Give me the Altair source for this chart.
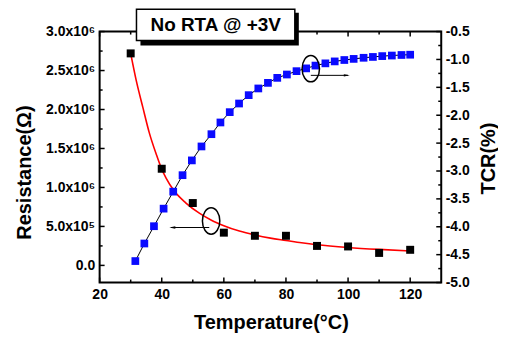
import altair as alt
import pandas as pd

# ---- data ----
temp_r = [30, 40, 50, 60, 70, 80, 90, 100, 110, 120]
resistance = [2.72e6, 1.24e6, 0.80e6, 0.42e6, 0.38e6, 0.38e6, 0.25e6, 0.243e6, 0.16e6, 0.20e6]

fit_t = [30, 31.8, 33.9, 36.0, 38.2, 39.8, 41.4, 44.1, 47.8, 52.1, 56, 60, 65, 70, 75, 80, 85, 90, 100, 110, 120]
fit_r = [2.72e6, 2.37e6, 2.03e6, 1.70e6, 1.43e6, 1.255e6, 1.12e6, 0.95e6, 0.80e6, 0.67e6, 0.58e6,
         0.51e6, 0.44e6, 0.39e6, 0.35e6, 0.32e6, 0.29e6, 0.265e6, 0.23e6, 0.205e6, 0.185e6]

temp_tcr = [31.5, 34.4, 37.5, 40.6, 43.7, 46.7, 49.7, 52.8, 56.0, 58.9, 61.9, 64.9, 68.0, 71.1, 74.2,
            77.2, 80.3, 83.4, 86.5, 89.5, 92.7, 95.7, 98.8, 101.8, 105.0, 108.0, 111.0, 114.1, 117.2, 120.0]
tcr = [-4.615, -4.30, -3.99, -3.675, -3.37, -3.075, -2.81, -2.56, -2.34, -2.13, -1.945, -1.79, -1.64,
       -1.52, -1.42, -1.33, -1.27, -1.21, -1.16, -1.11, -1.07, -1.035, -1.01, -0.99, -0.97, -0.955,
       -0.94, -0.93, -0.92, -0.915]

x_major = [20, 40, 60, 80, 100, 120]
x_minor = [30, 50, 70, 90, 110]
r_major = [0, 5e5, 1e6, 1.5e6, 2e6, 2.5e6, 3e6]
r_minor = [2.5e5, 7.5e5, 1.25e6, 1.75e6, 2.25e6, 2.75e6]
t_major = [-5.0, -4.5, -4.0, -3.5, -3.0, -2.5, -2.0, -1.5, -1.0, -0.5]
t_minor = [-4.75, -4.25, -3.75, -3.25, -2.75, -2.25, -1.75, -1.25, -0.75]

# annotation anchors (data units)
ell1_t, ell1_r = [55.9], [0.57e6]
arr1_t, arr1_r = [55.3, 43.0], [0.486e6, 0.486e6]
head1_t = [43.4]
ell2_t, ell2_v = [88.0], [-1.165]
arr2_t, arr2_v = [88.0, 100.0], [-1.285, -1.285]
head2_t = [99.6]

title_text = "No RTA @ +3V"

FONT = "Liberation Sans"
W, H = 343, 252

xs = alt.Scale(domain=[20, 130], nice=False, zero=False)
rs = alt.Scale(domain=[-2.2e5, 3.0e6], nice=False, zero=False)
ts = alt.Scale(domain=[-5.0, -0.5], nice=False, zero=False)

x_axis = alt.Axis(values=x_major, title="Temperature(\u00b0C)", ticks=False, domain=False, grid=False,
                  labelPadding=5, titleX=172, titleY=40, titleBaseline="middle", titleAlign="center")
r_axis = alt.Axis(values=r_major, title="Resistance(\u03a9)", ticks=False, domain=False, grid=False,
                  labelPadding=5,
                  labelExpr="datum.value == 0 ? '0.0' : (datum.value < 1e6 ? format(datum.value/1e5, '.1f') + 'x10\u2075' : format(datum.value/1e6, '.1f') + 'x10\u2076')",
                  titleX=-75, titleY=141, titleAngle=270, titleBaseline="middle", titleAlign="center")
t_axis = alt.Axis(values=t_major, title="TCR(%)", orient="right", ticks=False, domain=False, grid=False,
                  labelPadding=4, labelExpr="'-' + format(-datum.value, '.1f')",
                  titleX=47, titleY=127, titleAngle=270, titleBaseline="middle", titleAlign="center")

ELL = "M -0.66 0 A 0.66 1 0 1 0 0.66 0 A 0.66 1 0 1 0 -0.66 0 Z"
HEAD_L = "M -1 0 L 1 -0.4 L 1 0.4 Z"
HEAD_R = "M 1 0 L -1 -0.4 L -1 0.4 Z"


def X(field):
    return alt.X(field, scale=xs, axis=x_axis)


def YR(field):
    return alt.Y(field, scale=rs, axis=r_axis)


def YT(field):
    return alt.Y(field, scale=ts, axis=t_axis)


# ---- resistance group ----
fit_df = pd.DataFrame({"T": fit_t, "R": fit_r})
res_df = pd.DataFrame({"T": temp_r, "R": resistance})

fit_line = alt.Chart(fit_df).mark_line(color="red", strokeWidth=1.6, interpolate="monotone").encode(
    x=X("T:Q"), y=YR("R:Q"))
res_pts = alt.Chart(res_df).mark_square(color="black", size=64, opacity=1).encode(
    x=X("T:Q"), y=YR("R:Q"))
rmaj = alt.Chart(pd.DataFrame({"R": r_major})).mark_rule(color="black", strokeWidth=1.5).encode(
    y=YR("R:Q"), x=alt.value(0), x2=alt.value(5))
rmin = alt.Chart(pd.DataFrame({"R": r_minor})).mark_rule(color="black", strokeWidth=1.5).encode(
    y=YR("R:Q"), x=alt.value(0), x2=alt.value(3))
ell1 = alt.Chart(pd.DataFrame({"T": ell1_t, "R": ell1_r})).mark_point(
    shape=ELL, size=700, filled=False, color="black", strokeWidth=1.5, opacity=1).encode(
    x=X("T:Q"), y=YR("R:Q"))
arr1 = alt.Chart(pd.DataFrame({"T": arr1_t, "R": arr1_r})).mark_line(color="black", strokeWidth=1).encode(
    x=X("T:Q"), y=YR("R:Q"))
hd1 = alt.Chart(pd.DataFrame({"T": head1_t, "R": [arr1_r[0]]})).mark_point(
    shape=HEAD_L, size=36, filled=True, color="black", opacity=1).encode(
    x=X("T:Q"), y=YR("R:Q"))

res_group = alt.layer(fit_line, res_pts, rmaj, rmin, ell1, arr1, hd1)

# ---- TCR group ----
tcr_df = pd.DataFrame({"T": temp_tcr, "V": tcr})
tcr_line = alt.Chart(tcr_df).mark_line(color="black", strokeWidth=1).encode(
    x=X("T:Q"), y=YT("V:Q"))
tcr_pts = alt.Chart(tcr_df).mark_square(color="#0a0aff", size=60, opacity=1).encode(
    x=X("T:Q"), y=YT("V:Q"))
tmaj = alt.Chart(pd.DataFrame({"V": t_major})).mark_rule(color="black", strokeWidth=1.5).encode(
    y=YT("V:Q"), x=alt.value(W), x2=alt.value(W - 5))
tmin = alt.Chart(pd.DataFrame({"V": t_minor})).mark_rule(color="black", strokeWidth=1.5).encode(
    y=YT("V:Q"), x=alt.value(W), x2=alt.value(W - 3))
ell2 = alt.Chart(pd.DataFrame({"T": ell2_t, "V": ell2_v})).mark_point(
    shape=ELL, size=700, filled=False, color="black", strokeWidth=1.5, opacity=1).encode(
    x=X("T:Q"), y=YT("V:Q"))
arr2 = alt.Chart(pd.DataFrame({"T": arr2_t, "V": arr2_v})).mark_line(color="black", strokeWidth=1).encode(
    x=X("T:Q"), y=YT("V:Q"))
hd2 = alt.Chart(pd.DataFrame({"T": head2_t, "V": [arr2_v[0]]})).mark_point(
    shape=HEAD_R, size=36, filled=True, color="black", opacity=1).encode(
    x=X("T:Q"), y=YT("V:Q"))

tcr_group = alt.layer(tcr_line, tcr_pts, tmaj, tmin, ell2, arr2, hd2)

# ---- x ticks (bottom and top, inward) ----
xmaj_df = pd.DataFrame({"T": x_major})
xmin_df = pd.DataFrame({"T": x_minor})
bmaj = alt.Chart(xmaj_df).mark_rule(color="black", strokeWidth=1.5).encode(
    x=X("T:Q"), y=alt.value(H), y2=alt.value(H - 5))
bmin = alt.Chart(xmin_df).mark_rule(color="black", strokeWidth=1.5).encode(
    x=X("T:Q"), y=alt.value(H), y2=alt.value(H - 3))
tpmaj = alt.Chart(xmaj_df).mark_rule(color="black", strokeWidth=1.5).encode(
    x=X("T:Q"), y=alt.value(0), y2=alt.value(5))
tpmin = alt.Chart(xmin_df).mark_rule(color="black", strokeWidth=1.5).encode(
    x=X("T:Q"), y=alt.value(0), y2=alt.value(3))

# ---- title box ----
one = pd.DataFrame({"a": [0]})
shadow = alt.Chart(one).mark_rect(fill="black").encode(
    x=alt.value(41), x2=alt.value(200), y=alt.value(-19), y2=alt.value(14))
box = alt.Chart(one).mark_rect(fill="white", stroke="black", strokeWidth=1.5).encode(
    x=alt.value(37), x2=alt.value(196), y=alt.value(-22.5), y2=alt.value(9))
label = alt.Chart(one).mark_text(font=FONT, fontSize=19, fontWeight="bold", color="black",
                                 align="center", baseline="middle").encode(
    x=alt.value(116.5), y=alt.value(-6.5), text=alt.value(title_text))

chart = alt.layer(
    res_group, tcr_group, bmaj, bmin, tpmaj, tpmin, shadow, box, label
).resolve_scale(y="independent").properties(
    width=W, height=H,
    autosize=alt.AutoSizeParams(type="none"),
    padding={"left": 92, "top": 23, "right": 57, "bottom": 50},
).configure_view(
    stroke="black", strokeWidth=2
).configure_axis(
    labelFont=FONT, labelFontSize=14, labelFontWeight="bold", labelColor="black",
    titleFont=FONT, titleFontSize=20, titleFontWeight="bold", titleColor="black",
    labelOverlap=False, labelFlush=False,
)

chart.save("out.html", embed_options={"renderer": "svg", "actions": False})
